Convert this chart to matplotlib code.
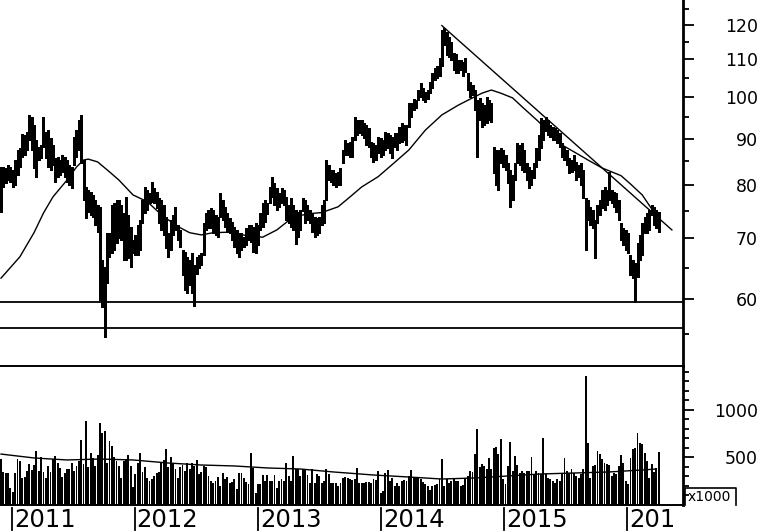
import matplotlib
matplotlib.use("Agg")
import matplotlib.pyplot as plt
import matplotlib.dates as mdates
from matplotlib.ticker import FixedLocator, FixedFormatter, NullFormatter
from matplotlib.lines import Line2D
from matplotlib.transforms import Bbox
import numpy as np
import pandas as pd

# ---------------- data ----------------
start_date = "2010-11-29"   # first weekly bar

high = [
    83.8, 83.8, 83.6, 84.2, 83.8, 83.2, 85.3, 87.5, 87.9, 91.1,
    90.9, 91.5, 95.6, 95.2, 93.2, 89.7, 88.1, 88.6, 95.2, 91.5,
    92.0, 90.2, 88.6, 85.8, 86.0, 85.3, 86.4, 86.0, 85.3, 84.2,
    83.8, 90.4, 92.0, 94.4, 95.6, 85.3, 79.7, 79.1, 78.7, 78.1,
    77.1, 76.2, 75.8, 66.3, 65.1, 71.0, 71.0, 76.2, 76.6, 77.1,
    77.1, 76.2, 74.7, 77.7, 74.3, 72.0, 69.7, 70.6, 72.4, 73.3,
    77.1, 79.7, 79.1, 78.5, 80.7, 79.5, 78.7, 77.5, 77.1, 76.2,
    73.9, 71.0, 73.3, 74.3, 75.8, 72.4, 71.5, 68.0, 67.6, 66.8,
    66.3, 67.5, 65.4, 66.8, 67.1, 67.5, 72.8, 74.7, 75.2, 75.6,
    75.2, 74.3, 73.9, 78.5, 77.1, 75.8, 74.7, 73.7, 72.9, 72.0,
    71.5, 71.0, 71.0, 70.2, 71.9, 72.4, 72.4, 72.0, 72.8, 72.4,
    74.7, 76.6, 77.1, 76.6, 79.7, 81.8, 80.5, 79.5, 78.5, 79.5,
    79.1, 77.7, 76.2, 77.5, 76.2, 75.2, 74.9, 75.2, 77.5, 77.1,
    76.2, 75.2, 74.7, 73.9, 73.7, 73.9, 76.2, 77.1, 85.3, 84.2,
    83.2, 83.2, 82.6, 82.8, 83.6, 87.5, 89.7, 89.1, 89.3, 90.4,
    95.2, 94.4, 94.4, 94.4, 93.6, 93.2, 92.5, 89.3, 89.1, 88.6,
    90.4, 90.2, 89.7, 91.5, 91.3, 90.9, 90.4, 91.3, 91.3, 92.7,
    93.6, 93.2, 93.2, 98.4, 98.4, 99.6, 99.3, 101.8, 103.6, 102.3,
    101.3, 101.8, 103.9, 106.2, 107.6, 108.3, 110.3, 118.5, 119.1, 117.9,
    116.5, 114.8, 111.9, 111.4, 109.8, 109.8, 109.3, 110.3, 106.3, 103.9,
    103.1, 101.8, 99.3, 99.8, 98.4, 98.0, 100.0, 99.3, 98.4, 88.1,
    87.5, 87.5, 87.9, 87.5, 86.4, 84.6, 83.2, 82.2, 84.6, 89.1,
    88.6, 89.1, 87.5, 84.6, 83.8, 83.2, 84.6, 87.9, 90.9, 94.8,
    94.4, 95.2, 94.4, 93.2, 92.7, 92.5, 92.0, 91.3, 89.1, 88.1,
    87.5, 85.8, 85.3, 86.4, 84.9, 84.2, 84.6, 83.2, 77.5, 77.1,
    75.8, 75.2, 73.3, 76.2, 77.1, 79.1, 79.7, 79.1, 82.8, 79.1,
    78.7, 78.5, 77.1, 72.8, 71.9, 71.5, 71.0, 67.1, 66.3, 65.8,
    69.2, 70.6, 72.8, 73.9, 74.7, 75.2, 76.2, 75.8, 75.2, 74.9,
]

low = [
    74.8, 79.7, 80.5, 81.1, 80.7, 79.7, 80.1, 82.2, 83.8, 86.0,
    86.4, 87.5, 89.7, 87.5, 83.6, 81.8, 85.3, 85.8, 88.1, 85.8,
    83.8, 83.2, 84.2, 80.7, 81.8, 82.2, 82.8, 81.8, 80.7, 80.1,
    79.5, 84.2, 86.0, 87.5, 84.6, 77.1, 73.7, 74.8, 74.3, 73.9,
    72.4, 71.1, 59.9, 58.9, 54.6, 62.5, 66.8, 67.5, 68.0, 69.2,
    70.0, 69.7, 66.3, 66.3, 66.6, 65.1, 67.5, 67.1, 67.1, 68.0,
    72.8, 74.7, 75.2, 76.6, 76.8, 76.6, 75.6, 72.8, 71.5, 70.6,
    68.3, 66.8, 68.0, 70.6, 71.5, 69.7, 68.5, 63.8, 61.4, 60.9,
    62.2, 60.9, 59.0, 64.0, 64.9, 65.4, 67.1, 71.5, 71.9, 71.9,
    71.0, 70.6, 70.2, 73.9, 73.3, 72.0, 71.1, 71.0, 69.7, 68.5,
    67.5, 66.8, 68.0, 68.5, 68.8, 69.7, 69.3, 67.6, 67.5, 68.8,
    71.5, 72.0, 72.9, 74.5, 76.6, 77.7, 76.2, 75.2, 75.8, 76.6,
    76.2, 73.3, 72.8, 72.0, 71.5, 69.0, 70.2, 71.5, 75.0, 72.8,
    73.3, 72.8, 71.1, 70.2, 70.6, 71.0, 72.4, 72.8, 77.1, 81.1,
    80.7, 80.1, 79.7, 80.1, 80.1, 84.6, 86.4, 86.4, 86.0, 86.0,
    89.7, 90.9, 91.3, 90.9, 90.2, 88.6, 88.1, 86.0, 84.9, 85.3,
    86.8, 86.0, 86.4, 87.5, 87.9, 86.8, 85.8, 88.1, 87.5, 89.0,
    89.3, 89.7, 88.6, 92.7, 95.0, 96.8, 97.2, 99.3, 100.0, 99.3,
    98.8, 99.6, 101.0, 102.3, 104.4, 105.0, 105.6, 108.3, 114.2, 111.2,
    110.6, 109.8, 107.1, 106.3, 106.3, 107.1, 105.6, 106.6, 101.8, 100.0,
    100.5, 96.8, 86.0, 94.4, 92.7, 93.2, 93.6, 94.4, 94.0, 82.6,
    80.1, 79.1, 84.6, 83.8, 83.2, 80.5, 75.8, 77.1, 81.1, 84.6,
    84.2, 83.2, 82.8, 81.1, 79.5, 80.1, 81.5, 83.8, 85.3, 87.9,
    89.7, 91.7, 90.9, 90.4, 89.7, 89.7, 89.0, 88.1, 86.0, 85.3,
    84.2, 82.6, 82.8, 83.2, 81.1, 81.8, 80.1, 77.5, 68.0, 73.3,
    72.4, 71.9, 66.6, 72.8, 74.3, 75.6, 75.2, 76.2, 77.1, 76.6,
    75.8, 74.8, 73.3, 69.7, 68.8, 68.0, 67.5, 63.8, 63.3, 59.6,
    63.5, 66.3, 67.1, 71.0, 71.0, 71.5, 74.3, 72.4, 71.9, 71.1,
]

volume = [  # thousands
    487, 346, 340, 333, 182, 136, 340, 487, 462, 287,
    297, 357, 427, 368, 417, 563, 357, 504, 350, 287,
    410, 350, 480, 515, 445, 392, 297, 340, 375, 375,
    445, 357, 410, 462, 683, 427, 882, 402, 542, 497,
    410, 521, 857, 760, 777, 445, 672, 620, 508, 462,
    410, 287, 462, 487, 521, 410, 192, 322, 445, 542,
    346, 402, 287, 252, 270, 305, 340, 346, 437, 472,
    592, 402, 508, 427, 381, 287, 402, 417, 357, 445,
    375, 445, 410, 472, 322, 346, 410, 402, 305, 252,
    235, 252, 297, 200, 340, 270, 297, 227, 242, 270,
    165, 340, 340, 287, 242, 217, 542, 392, 130, 217,
    217, 312, 252, 312, 252, 252, 312, 182, 252, 270,
    252, 437, 305, 252, 515, 375, 375, 305, 375, 375,
    312, 235, 375, 235, 322, 305, 235, 252, 381, 322,
    235, 235, 227, 200, 227, 287, 297, 287, 270, 262,
    270, 392, 227, 227, 235, 242, 242, 235, 270, 262,
    357, 130, 147, 340, 368, 252, 287, 200, 235, 200,
    252, 262, 252, 305, 368, 287, 287, 287, 270, 242,
    217, 200, 160, 200, 207, 217, 270, 487, 200, 270,
    235, 252, 270, 252, 252, 200, 207, 270, 305, 357,
    346, 532, 794, 402, 427, 410, 375, 497, 375, 602,
    612, 532, 689, 270, 217, 410, 661, 357, 515, 417,
    340, 357, 333, 357, 357, 508, 322, 357, 340, 322,
    707, 322, 287, 270, 252, 227, 270, 252, 340, 497,
    357, 340, 375, 340, 305, 287, 322, 381, 1354, 654,
    287, 410, 417, 567, 532, 480, 445, 427, 417, 305,
    340, 322, 410, 521, 445, 252, 217, 497, 585, 602,
    760, 647, 637, 542, 462, 287, 427, 346, 392, 553,
]

# price moving average (week index -> value)
ma_week = [0, 8, 14, 18, 22, 28, 32, 35, 37, 41, 46, 50, 56, 62, 69, 76, 80, 85,
           90, 97, 105, 111, 117, 124, 131, 136, 143, 148, 153, 160, 167, 173,
           180, 187, 194, 200, 204, 208, 212, 217, 221, 228, 235, 238, 243, 249,
           255, 258, 263, 267, 272, 276, 279]
ma_value = [63.3, 66.8, 71.0, 74.6, 77.7, 81.1, 83.8, 85.3, 85.5, 84.9, 82.8, 81.1,
            78.1, 76.8, 73.9, 71.9, 71.0, 70.6, 71.0, 71.1, 70.4, 70.2, 71.5, 73.9,
            74.5, 74.7, 75.8, 77.7, 79.7, 81.8, 84.8, 87.5, 92.0, 95.6, 98.0, 99.8,
            101.0, 101.8, 101.0, 99.8, 97.6, 94.0, 90.0, 88.6, 87.1, 85.3, 83.6,
            83.0, 82.0, 80.3, 78.1, 75.4, 74.6]

# volume moving average (week index -> value)
vol_ma_week = [0, 14, 28, 42, 56, 71, 85, 99, 113, 127, 141, 158, 173, 187, 201,
               215, 229, 243, 258, 272, 278]
vol_ma_value = [535, 494, 473, 483, 473, 441, 420, 410, 389, 378, 347, 315, 294,
                273, 284, 305, 326, 336, 347, 368, 378]

trend_dates = ["2014-06-30", "2016-05-13"]
trend_values = [119.8, 71.5]
support_levels = [59.6, 55.8]

price_ticks = [60, 70, 80, 90, 100, 110, 120]
price_minor = [55, 65, 75, 85, 95, 105, 115, 125]
vol_ticks = [500, 1000]
vol_minor = [100, 200, 300, 400, 600, 700, 800, 900, 1100, 1200, 1300, 1400]
years = [2011, 2012, 2013, 2014, 2015, 2016]
x_start, x_end = "2010-11-26", "2016-06-15"

# ---------------- figure ----------------
W, H = 760, 531
fig = plt.figure(figsize=(W / 100, H / 100), dpi=100)


def fx(px):
    return px / W


def fy(py):
    return 1 - py / H


ax = fig.add_axes([0, fy(366), fx(683), 366 / H])
axv = fig.add_axes([0, fy(505), fx(683), (505 - 366) / H])
axl = fig.add_axes([0, 0, fx(683), fy(505)])

dates = pd.date_range(start_date, periods=len(high), freq="7D")
xd = mdates.date2num(dates.to_pydatetime())
xlim = (mdates.date2num(pd.Timestamp(x_start).to_pydatetime()),
        mdates.date2num(pd.Timestamp(x_end).to_pydatetime()))

# price panel
ax.set_yscale("log")
ax.vlines(xd, low, high, colors="black", linewidth=1.8, antialiased=False)
ax.plot(xd[ma_week], ma_value, color="black", lw=1.0)
tx = mdates.date2num([pd.Timestamp(d).to_pydatetime() for d in trend_dates])
ax.plot(tx, trend_values, color="black", lw=1.0)
for lvl in support_levels:
    ax.axhline(lvl, color="black", lw=1.3)
ax.set_xlim(*xlim)
ax.set_ylim(50.7, 127.8)
ax.yaxis.set_major_locator(FixedLocator(price_ticks))
ax.yaxis.set_major_formatter(FixedFormatter([str(t) for t in price_ticks]))
ax.yaxis.set_minor_locator(FixedLocator(price_minor))
ax.yaxis.set_minor_formatter(NullFormatter())
ax.tick_params(axis="y", which="both", left=False, labelleft=False,
               right=True, labelright=True, direction="out", width=1.3)
ax.tick_params(axis="y", which="major", length=8, labelsize=12.5, pad=46)
ax.tick_params(axis="y", which="minor", length=4.5)
for lbl in ax.get_yticklabels():
    lbl.set_horizontalalignment("right")
ax.tick_params(axis="x", which="both", bottom=False, labelbottom=False)
for s in ["left", "top", "bottom"]:
    ax.spines[s].set_visible(False)
ax.spines["right"].set_linewidth(2)

# volume panel
axv.bar(xd, volume, width=5.6, color="black", linewidth=0, antialiased=False)
axv.plot(xd[vol_ma_week], vol_ma_value, color="black", lw=1.0)
axv.set_xlim(*xlim)
axv.set_ylim(0, 1460)
axv.yaxis.set_major_locator(FixedLocator(vol_ticks))
axv.yaxis.set_major_formatter(FixedFormatter([str(t) for t in vol_ticks]))
axv.yaxis.set_minor_locator(FixedLocator(vol_minor))
axv.tick_params(axis="y", which="both", left=False, labelleft=False,
                right=True, labelright=True, direction="out", width=1.3)
axv.tick_params(axis="y", which="major", length=8, labelsize=12.5, pad=46)
axv.tick_params(axis="y", which="minor", length=4.5)
for lbl in axv.get_yticklabels():
    lbl.set_horizontalalignment("right")
axv.tick_params(axis="x", which="both", bottom=False, labelbottom=False)
axv.spines["left"].set_visible(False)
axv.spines["right"].set_linewidth(2)
axv.spines["top"].set_linewidth(1.4)
axv.spines["bottom"].set_linewidth(1.4)

# year label band (labels cut at the right edge as in the original)
axl.set_xlim(*xlim)
axl.set_ylim(0, 1)
axl.axis("off")
label_clip = Bbox.from_extents(0, 0, 677, 30)   # display pixels
for yr in years:
    d = mdates.date2num(pd.Timestamp(f"{yr}-01-01").to_pydatetime())
    axl.plot([d, d], [0.04, 0.885], color="black", lw=1.3)
    t = axl.text(d + 5, 0.42, str(yr), fontsize=17.5, va="center", ha="left",
                 clip_on=True)
    t.set_clip_path(None)
    t.set_clip_box(label_clip)

# "x1000" box
fig.add_artist(Line2D([fx(685), fx(685), fx(736), fx(736)],
                      [fy(505), fy(488), fy(488), fy(505)],
                      transform=fig.transFigure, color="black", lw=1.2))
fig.text(fx(688), fy(497), "x1000", fontsize=10, va="center", ha="left")

fig.savefig("out.png", dpi=100)
